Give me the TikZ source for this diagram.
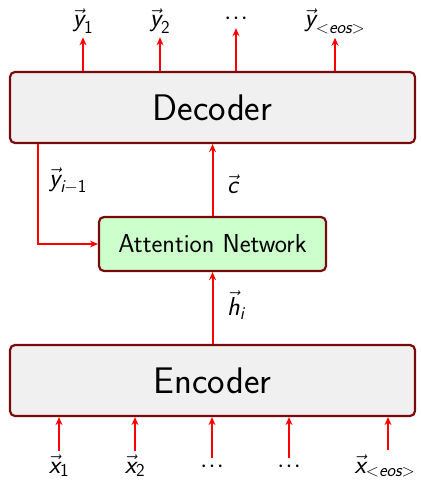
\documentclass[tikz,border=0pt]{standalone}
\usepackage{amsmath}
\usepackage{fontspec}
\usetikzlibrary{arrows.meta}
\definecolor{boxborder}{HTML}{7A0A0A}
\definecolor{boxgray}{HTML}{F0F0F0}
\definecolor{boxgreen}{HTML}{CCFFCC}
\newcommand\sfit[1]{\text{\sffamily\itshape #1}}
\newcommand\sfup[1]{\text{\sffamily #1}}
\newcommand\middots{$\mathord{\cdotp}\mkern1mu\mathord{\cdotp}\mkern1mu\mathord{\cdotp}$}
\begin{document}
\begin{tikzpicture}[x=1pt,y=-1pt,
  bigbox/.style={draw=boxborder, line width=2.2pt, rounded corners=5pt, fill=boxgray,
     minimum width=405pt, minimum height=71pt, inner sep=0pt,
     font=\sffamily\fontsize{37}{44}\selectfont},
  attbox/.style={draw=boxborder, line width=2.2pt, rounded corners=5pt, fill=boxgreen,
     minimum width=227pt, minimum height=54pt, inner sep=0pt,
     font=\sffamily\fontsize{26}{31}\selectfont},
  lab/.style={inner sep=5pt, font=\fontsize{26}{31}\selectfont},
  arr/.style={draw=red, line width=2pt, -{Stealth[length=8pt,width=7pt]}},
]
\useasboundingbox (0,0) rectangle (420,481);
\node[bigbox] (dec) at (212.5,107.5) {Decoder};
\node[attbox] (att) at (212.5,244) {Attention Network};
\node[bigbox] (enc) at (212.5,380.5) {Encoder};
% top labels
\node[lab, anchor=base, inner sep=4pt] (y1) at (83,27) {$\vec{\sfit{y}}_{\sfup{1}}$};
\node[lab, anchor=base, inner sep=4pt] (y2) at (160,27) {$\vec{\sfit{y}}_{\sfup{2}}$};
\node[lab, anchor=base, inner sep=3pt] (yd) at (236,25) {\middots};
\node[lab, anchor=base, inner sep=4pt] (ye) at (335,27) {$\vec{\sfit{y}}_{<\sfit{eos}>}$};
\draw[arr] (dec.north -| y1) -- (y1);
\draw[arr] (dec.north -| y2) -- (y2);
\draw[arr] (dec.north -| yd) -- (yd);
\draw[arr] (dec.north -| ye) -- (ye);
% bottom labels
\node[lab, anchor=base, inner sep=4pt] (x1) at (59,473) {$\vec{\sfit{x}}_{\sfup{1}}$};
\node[lab, anchor=base, inner sep=4pt] (x2) at (135,473) {$\vec{\sfit{x}}_{\sfup{2}}$};
\node[lab, anchor=base, inner sep=3pt] (xd1) at (212,472) {\middots};
\node[lab, anchor=base, inner sep=3pt] (xd2) at (289,472) {\middots};
\node[lab, anchor=base, inner sep=4pt] (xe) at (385,473) {$\vec{\sfit{x}}_{<\sfit{eos}>}$};
\draw[arr] (x1) -- (x1 |- enc.south);
\draw[arr] (x2) -- (x2 |- enc.south);
\draw[arr] (xd1) -- (xd1 |- enc.south);
\draw[arr] (xd2) -- (xd2 |- enc.south);
\coordinate (xeb) at (388,450);
\draw[arr] (xeb) -- (xeb |- enc.south);
% middle
\coordinate (fb) at (38,143);
\draw[arr] (dec.south -| fb) |- (att.west);
\draw[arr] (att.north) -- (dec.south);
\draw[arr] (enc.north) -- (att.south);
\node[lab, anchor=west, inner sep=0pt] (ylab) at (49,181) {$\vec{\sfit{y}}_{\sfit{i}-\sfup{1}}$};
\node[lab, anchor=west, inner sep=0pt] (clab) at (227,184) {$\vec{\sfit{c}}$};
\node[lab, anchor=west, inner sep=0pt] (hlab) at (227,305) {$\vec{\sfit{h}}_{\sfit{i}}$};
\end{tikzpicture}
\end{document}
